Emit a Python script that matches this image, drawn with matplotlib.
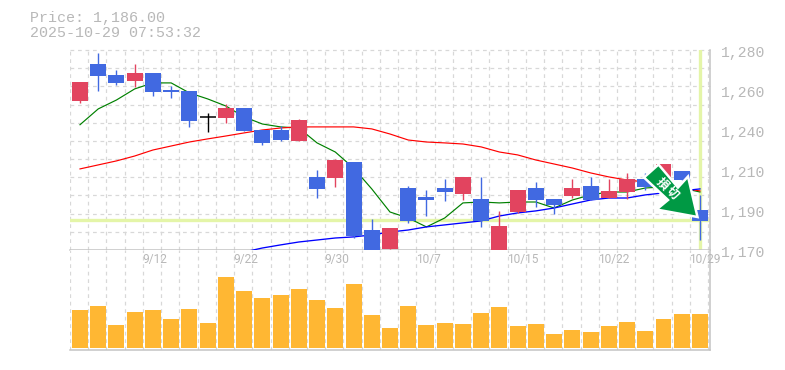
import numpy as np
import matplotlib
matplotlib.use("Agg")
import matplotlib.pyplot as plt
from matplotlib.patches import Polygon
from matplotlib.transforms import IdentityTransform

title_lines = ["Price: 1,186.00", "2025-10-29 07:53:32"]
last_price = 1186.5

opens = [1252.0, 1272.3, 1266.3, 1263.0, 1267.4, 1258.0, 1257.5, 1243.2, 1242.6, 1248.1, 1236.0, 1236.0,
         1230.0, 1210.2, 1209.6, 1218.4, 1181.0, 1170.6, 1204.1, 1199.2, 1204.1, 1200.8, 1198.0, 1169.5,
         1190.9, 1204.1, 1198.0, 1199.7, 1205.2, 1198.6, 1201.9, 1209.0, 1209.6, 1213.5, 1192.0]
highs = [1262.4, 1278.4, 1269.0, 1272.3, 1267.4, 1260.2, 1257.5, 1245.4, 1250.3, 1248.1, 1236.0, 1238.2,
         1242.0, 1214.0, 1220.0, 1218.4, 1187.0, 1182.1, 1205.2, 1203.0, 1209.0, 1210.2, 1210.2, 1191.5,
         1203.0, 1207.4, 1198.0, 1209.0, 1210.2, 1209.0, 1212.4, 1212.4, 1217.3, 1213.5, 1200.3]
lows = [1250.9, 1257.5, 1260.8, 1259.7, 1254.7, 1253.6, 1237.7, 1234.9, 1239.9, 1235.5, 1227.8, 1230.0,
        1230.0, 1198.6, 1204.7, 1176.6, 1168.0, 1170.6, 1184.9, 1188.7, 1197.0, 1197.5, 1182.7, 1169.5,
        1190.4, 1193.7, 1189.8, 1198.6, 1197.5, 1198.6, 1198.0, 1203.0, 1209.0, 1208.5, 1175.5]
closes = [1262.4, 1265.7, 1261.9, 1267.4, 1256.9, 1256.9, 1241.0, 1243.2, 1248.1, 1235.5, 1228.9, 1230.5,
          1241.5, 1203.6, 1219.5, 1177.7, 1168.0, 1182.1, 1186.0, 1197.5, 1201.9, 1210.2, 1186.0, 1183.2,
          1203.0, 1197.5, 1194.8, 1204.1, 1197.5, 1202.5, 1209.0, 1204.7, 1217.3, 1208.5, 1186.0]
volumes = [380, 420, 230, 360, 380, 290, 390, 250, 710, 570, 500, 530, 590, 480, 400, 640, 330, 200,
           420, 230, 250, 240, 350, 410, 220, 240, 140, 180, 160, 220, 260, 170, 290, 340, 340]

ma_short = [1238.9, 1247.6, 1252.5, 1258.6, 1261.9, 1261.9, 1256.4, 1253.1, 1249.2, 1243.2, 1239.3, 1237.7,
            1237.1, 1228.9, 1223.9, 1215.1, 1203.6, 1190.9, 1187.6, 1182.7, 1187.6, 1195.9, 1196.4, 1195.9,
            1196.4, 1196.4, 1193.1, 1197.5, 1200.3, 1201.9, 1201.9, 1204.1, 1204.7, 1204.1, 1201.9]
ma_mid = [1214.6, 1216.8, 1219.0, 1221.7, 1225.0, 1227.2, 1229.4, 1231.1, 1232.7, 1234.4, 1236.0, 1237.1,
          1237.7, 1237.7, 1237.7, 1237.7, 1236.6, 1233.8, 1230.5, 1229.4, 1228.9, 1228.3, 1226.7, 1223.9,
          1222.3, 1219.5, 1217.3, 1215.1, 1212.4, 1210.2, 1208.5, 1207.4, 1205.8, 1204.1, 1202.5]
ma_long = [1168.9, 1171.1, 1172.8, 1174.4, 1175.5, 1176.6, 1177.2, 1178.3, 1179.9, 1181.0, 1182.7, 1183.8,
           1184.9, 1186.0, 1188.7, 1190.4, 1191.5, 1193.1, 1195.3, 1197.5, 1198.6, 1198.6, 1200.3, 1201.4,
           1202.5, 1203.6]
ma_long_start = 9

price_ticks = [1170, 1192, 1214, 1236, 1258, 1280]
price_labels = ["1,170", "1,190", "1,210", "1,240", "1,260", "1,280"]
date_pos = [4, 9, 14, 19, 24, 29, 34]
date_labels = ["9/12", "9/22", "9/30", "10/7", "10/15", "10/22", "10/29"]

W, H = 785, 370
GREY = "#b8b8b8"
GRID = "#d8d8d8"
UP = "#e2445f"
DOWN = "#4169e1"
HILITE = "#e4f5a8"
MONO = "Liberation Mono"
dash = (0, (3, 3))


def rect(x0, y0, x1, y1):
    return [x0 / W, 1 - y1 / H, (x1 - x0) / W, (y1 - y0) / H]


fig = plt.figure(figsize=(W / 100, H / 100), dpi=100)
ax = fig.add_axes(rect(70, 50, 710, 250))
ax_vol = fig.add_axes(rect(70, 250, 710, 350), sharex=ax)

x = np.arange(len(opens))
grid_x = np.arange(len(opens) + 1) - 0.55
width = 0.877

for a in (ax, ax_vol):
    a.set_xlim(-0.548, 34.55)
    a.set_xticks([])
    a.set_yticks([])
    for s in ("top", "left"):
        a.spines[s].set_visible(False)
    for s in ("bottom", "right"):
        a.spines[s].set_color("#c4c4c4")
        a.spines[s].set_linewidth(1.1)
    for gx in grid_x:
        a.axvline(gx, color=GRID, lw=0.9, ls=dash, zorder=1)

# price panel
ax.set_ylim(1170, 1280)
for gy in range(1180, 1281, 10):
    ax.axhline(gy, color=GRID, lw=0.9, ls=dash, zorder=1, clip_on=False)
ax.axhline(last_price, color=HILITE, lw=2.4, zorder=2)
ax.axvline(x[-1], color=HILITE, lw=2.4, ymin=0.01, zorder=2)

ax.plot(x, ma_short, color="#008000", lw=0.85, zorder=3)
ax.plot(x, ma_mid, color="#ff0000", lw=0.85, zorder=3)
ax.plot(x[ma_long_start:], ma_long, color="#0000ff", lw=0.95, zorder=3)

for i in x:
    o, h, l, c = opens[i], highs[i], lows[i], closes[i]
    if o == c:
        col = "black"
        ax.hlines(o, i - width / 2, i + width / 2, color=col, lw=1.1, zorder=4)
    else:
        col = UP if c > o else DOWN
        ax.bar(i, abs(c - o), width, bottom=min(o, c), color=col, zorder=4)
    ax.vlines(i, l, h, color=col, lw=1.0, zorder=4)

for val, lab in zip(price_ticks, price_labels):
    ax.annotate(lab, (1, val), xycoords=("axes fraction", "data"), xytext=(11, -3),
                textcoords="offset pixels", ha="left", va="center",
                family=MONO, fontsize=10.6, color=GREY, annotation_clip=False)

# volume panel
ax_vol.set_ylim(-20, 980)
ax_vol.bar(x, volumes, width, color="#ffb733", zorder=3)

for pos, lab in zip(date_pos, date_labels):
    ax_vol.annotate(lab, (pos, 1), xycoords=("data", "axes fraction"), xytext=(-10.5, -10),
                    textcoords="offset pixels", ha="left", va="center",
                    family="Roboto", fontsize=8.6, color=GREY, zorder=6, annotation_clip=False)

# header
for line, ypx in zip(title_lines, (18, 33)):
    fig.text(30 / W, 1 - ypx / H, line, family=MONO, fontsize=10.8, color=GREY, ha="left", va="center")

# stop-loss arrow
arrow_px = [(658.5, 164.5), (644, 177.5), (668, 200), (656.5, 209.5), (697.5, 217), (688, 176.5), (678, 187.5)]
arrow_xy = [(px, H - py) for px, py in arrow_px]
fig.add_artist(Polygon(arrow_xy, closed=True, facecolor="#009944", edgecolor="white", lw=1.8,
                       joinstyle="miter", transform=IdentityTransform(), zorder=10))
for ch, (px, py) in zip("損切", [(662.5, 183.5), (672.5, 193)]):
    fig.text(px / W, 1 - py / H, ch, family=["Noto Sans CJK JP", "DejaVu Sans"], weight="bold",
             fontsize=8.6, color="white", rotation=-45, ha="center", va="center", zorder=11)

fig.savefig("out.png", dpi=100)
